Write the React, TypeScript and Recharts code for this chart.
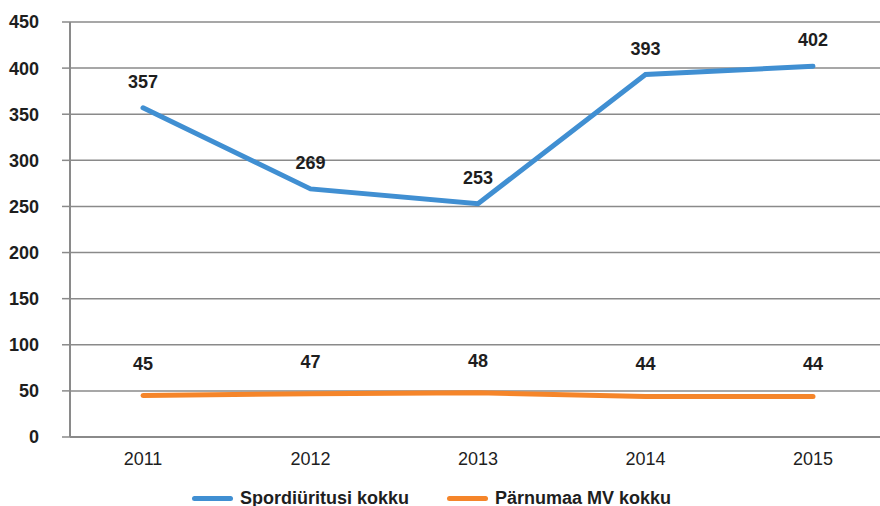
import React from "react";
import { LineChart, Line, XAxis, YAxis, CartesianGrid, Legend, LabelList } from "recharts";

const years = ["2011", "2012", "2013", "2014", "2015"];
const sportEvents = [357, 269, 253, 393, 402];
const parnumaa = [45, 47, 48, 44, 44];
const yTicks = [0, 50, 100, 150, 200, 250, 300, 350, 400, 450];

const SERIES_1 = "Spordiüritusi kokku";
const SERIES_2 = "Pärnumaa MV kokku";
const BLUE = "#408fd2";
const ORANGE = "#f5852a";
const FONT = "'Liberation Sans', Arial, sans-serif";

const data = years.map((y, i) => ({ year: y, a: sportEvents[i], b: parnumaa[i] }));

const makeLabel = (dy: number) => (props: any) => {
  const { x, y, value } = props;
  return (
    <text x={x} y={y - dy} textAnchor="middle" dominantBaseline="central" fontFamily={FONT} fontWeight="bold" fontSize={18} fill="#1e1e1e">
      {value}
    </text>
  );
};

const LegendContent = () => (
  <div style={{ display: "flex", justifyContent: "center", alignItems: "center", boxSizing: "border-box", height: 22, paddingTop: 6, paddingRight: 17, fontFamily: FONT, fontWeight: "bold", fontSize: 18, color: "#1e1e1e" }}>
    {[{ n: SERIES_1, c: BLUE }, { n: SERIES_2, c: ORANGE }].map((it, i) => (
      <div key={i} style={{ display: "flex", alignItems: "center", marginLeft: i === 0 ? 0 : 38 }}>
        <div style={{ width: 41, height: 5, borderRadius: 3, background: it.c, marginRight: 7 }} />
        <span>{it.n}</span>
      </div>
    ))}
  </div>
);

export default function App() {
  return (
    <div style={{ position: "absolute", left: 0, top: 0, width: 880, height: 506, background: "#fff" }}>
      <LineChart width={880} height={506} data={data} margin={{ top: 22, right: 0, left: 0, bottom: 0 }}>
        <CartesianGrid vertical={false} stroke="#8a8a8a" strokeWidth={1.5} />
        <XAxis
          dataKey="year"
          padding={{ left: 73, right: 67 }}
          height={47}
          tickLine={false}
          axisLine={{ stroke: "#8a8a8a", strokeWidth: 2 }}
          tick={{ fontFamily: FONT, fontSize: 18, fill: "#1e1e1e" }}
          tickMargin={9}
        />
        <YAxis
          width={70}
          domain={[0, 450]}
          ticks={yTicks}
          interval={0}
          tickSize={8}
          tickMargin={23}
          tickLine={{ stroke: "#8a8a8a", strokeWidth: 1.5 }}
          axisLine={{ stroke: "#8a8a8a", strokeWidth: 2 }}
          tick={{ fontFamily: FONT, fontSize: 18, fontWeight: "bold", fill: "#1e1e1e" }}
        />
        <Legend verticalAlign="bottom" content={<LegendContent />} />
        <Line dataKey="a" name={SERIES_1} stroke={BLUE} strokeWidth={5} strokeLinecap="round" dot={false} isAnimationActive={false}>
          <LabelList dataKey="a" content={makeLabel(26)} />
        </Line>
        <Line dataKey="b" name={SERIES_2} stroke={ORANGE} strokeWidth={5} strokeLinecap="round" dot={false} isAnimationActive={false}>
          <LabelList dataKey="b" content={makeLabel(32)} />
        </Line>
      </LineChart>
    </div>
  );
}
